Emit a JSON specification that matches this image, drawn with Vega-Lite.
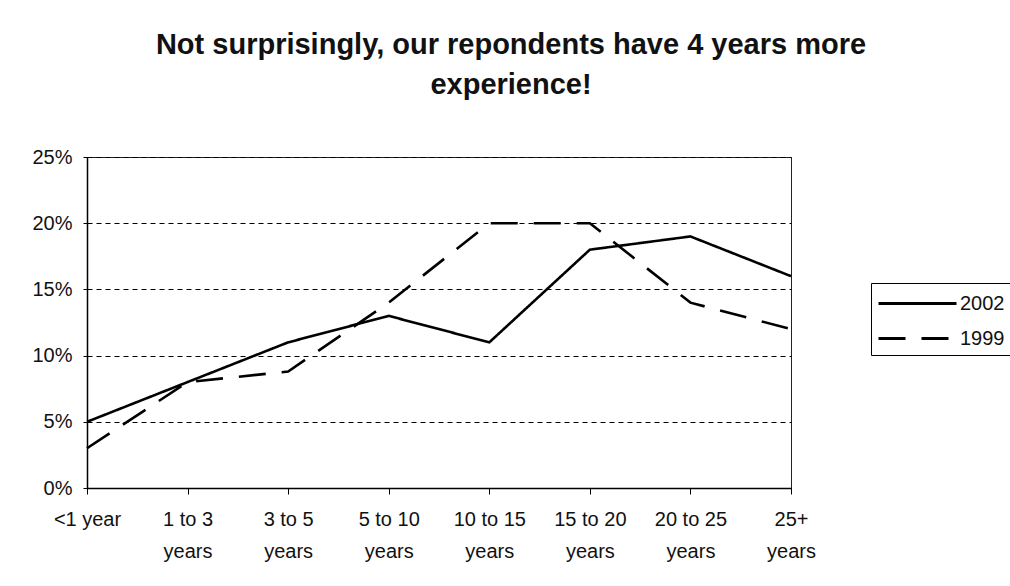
{
  "$schema": "https://vega.github.io/schema/vega-lite/v6.json",
  "width": 704,
  "height": 331,
  "autosize": {"type": "none"},
  "padding": {"left": 87, "top": 157, "right": 219, "bottom": 98},
  "background": "white",
  "config": {
    "font": "Liberation Sans",
    "view": {"stroke": "#222", "strokeWidth": 1}
  },
  "title": {
    "text": ["Not surprisingly, our repondents have 4 years more", "experience!"],
    "fontSize": 29,
    "fontWeight": "bold",
    "font": "Liberation Sans",
    "color": "#111",
    "lineHeight": 40,
    "anchor": "middle",
    "frame": "group",
    "dx": 72,
    "offset": 24,
    "baseline": "alphabetic"
  },
  "data": {
    "values": [
      {"exp": "<1 year", "year": "2002", "pct": 0.05},
      {"exp": "1 to 3 years", "year": "2002", "pct": 0.08},
      {"exp": "3 to 5 years", "year": "2002", "pct": 0.11},
      {"exp": "5 to 10 years", "year": "2002", "pct": 0.13},
      {"exp": "10 to 15 years", "year": "2002", "pct": 0.11},
      {"exp": "15 to 20 years", "year": "2002", "pct": 0.18},
      {"exp": "20 to 25 years", "year": "2002", "pct": 0.19},
      {"exp": "25+ years", "year": "2002", "pct": 0.16},
      {"exp": "<1 year", "year": "1999", "pct": 0.03},
      {"exp": "1 to 3 years", "year": "1999", "pct": 0.08},
      {"exp": "3 to 5 years", "year": "1999", "pct": 0.088},
      {"exp": "5 to 10 years", "year": "1999", "pct": 0.14},
      {"exp": "10 to 15 years", "year": "1999", "pct": 0.20},
      {"exp": "15 to 20 years", "year": "1999", "pct": 0.20},
      {"exp": "20 to 25 years", "year": "1999", "pct": 0.14},
      {"exp": "25+ years", "year": "1999", "pct": 0.12}
    ]
  },
  "mark": {"type": "line", "color": "black", "strokeWidth": 2.6, "clip": false},
  "encoding": {
    "x": {
      "field": "exp",
      "type": "ordinal",
      "sort": null,
      "scale": {"type": "point", "padding": 0},
      "axis": {
        "title": null,
        "labelAngle": 0,
        "labelFontSize": 20,
        "labelColor": "#111",
        "labelOverlap": false,
        "labelBaseline": "top",
        "labelLineHeight": 32,
        "labelPadding": 15,
        "labelExpr": "indexof(datum.value, ' years') > 0 ? [replace(datum.value, ' years', ''), 'years'] : datum.value",
        "tickSize": 6,
        "tickColor": "black",
        "domainColor": "black",
        "domainWidth": 1.5,
        "grid": false
      }
    },
    "y": {
      "field": "pct",
      "type": "quantitative",
      "scale": {"domain": [0, 0.25]},
      "axis": {
        "title": null,
        "values": [0, 0.05, 0.1, 0.15, 0.2, 0.25],
        "format": ".0%",
        "labelFontSize": 20,
        "labelColor": "#111",
        "labelPadding": 11,
        "tickSize": 4,
        "tickColor": "black",
        "domainColor": "black",
        "domainWidth": 1.5,
        "grid": true,
        "gridColor": "black",
        "gridDash": [5, 4],
        "gridWidth": 1
      }
    },
    "strokeDash": {
      "field": "year",
      "type": "nominal",
      "scale": {"domain": ["2002", "1999"], "range": [[1, 0], [27, 16]]},
      "legend": {
        "title": null,
        "orient": "none",
        "legendX": 784,
        "legendY": 126,
        "strokeColor": "black",
        "fillColor": "white",
        "padding": 6,
        "symbolType": "M-1,0H5",
        "symbolSize": 676,
        "symbolStrokeWidth": 3,
        "symbolStrokeColor": "black",
        "symbolFillColor": "transparent",
        "labelOffset": 54,
        "labelFontSize": 20,
        "labelColor": "#111",
        "rowPadding": 10
      }
    }
  }
}
